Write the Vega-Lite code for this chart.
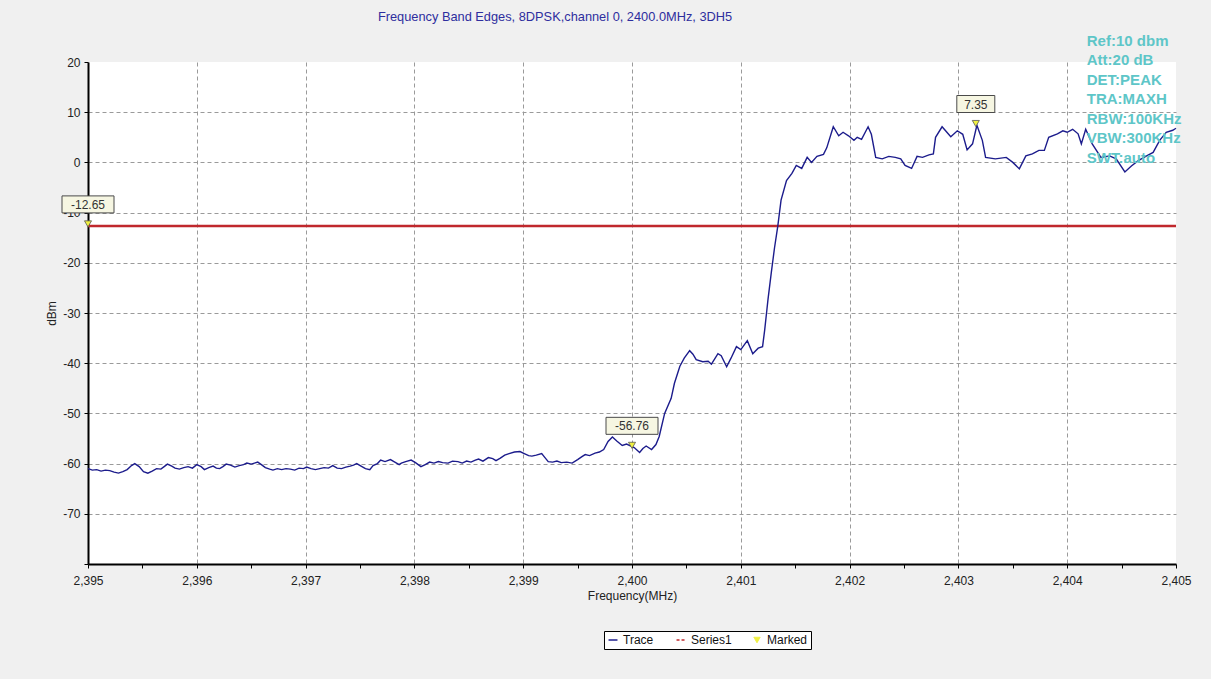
{
  "$schema": "https://vega.github.io/schema/vega-lite/v6.json",
  "width": 1088,
  "height": 502,
  "autosize": {"type": "none"},
  "padding": {"left": 88, "top": 62, "right": 35, "bottom": 115},
  "background": "#f0f0f0",
  "title": {
    "text": "Frequency Band Edges, 8DPSK,channel 0, 2400.0MHz, 3DH5",
    "color": "#2e2e9e",
    "fontSize": 12.8,
    "fontWeight": "normal",
    "font": "Liberation Sans",
    "anchor": "middle",
    "dx": -77,
    "dy": 12,
    "offset": 9,
    "baseline": "bottom"
  },
  "config": {
    "font": "Liberation Sans",
    "view": {"fill": "#ffffff", "stroke": null},
    "axis": {
      "labelFont": "Liberation Sans",
      "titleFont": "Liberation Sans",
      "labelFontSize": 12,
      "labelColor": "#222222",
      "titleFontSize": 12,
      "titleFontWeight": "normal",
      "titleColor": "#222222",
      "domainColor": "#000000",
      "domainWidth": 2,
      "tickColor": "#000000",
      "tickSize": 4,
      "gridColor": "#9a9a9a",
      "gridDash": [4, 3],
      "gridWidth": 1
    }
  },
  "datasets": {
    "trace": [
      {"f": 2395.00, "v": -61.0}, {"f": 2395.04, "v": -61.3}, {"f": 2395.08, "v": -61.2}, {"f": 2395.12, "v": -61.5},
      {"f": 2395.16, "v": -61.3}, {"f": 2395.20, "v": -61.4}, {"f": 2395.24, "v": -61.7}, {"f": 2395.28, "v": -61.9},
      {"f": 2395.32, "v": -61.6}, {"f": 2395.36, "v": -61.2}, {"f": 2395.40, "v": -60.4}, {"f": 2395.43, "v": -60.0},
      {"f": 2395.47, "v": -60.6}, {"f": 2395.51, "v": -61.6}, {"f": 2395.55, "v": -61.9}, {"f": 2395.59, "v": -61.5},
      {"f": 2395.63, "v": -61.0}, {"f": 2395.67, "v": -61.1}, {"f": 2395.70, "v": -60.6}, {"f": 2395.73, "v": -60.1},
      {"f": 2395.77, "v": -60.5}, {"f": 2395.80, "v": -60.9}, {"f": 2395.84, "v": -61.1}, {"f": 2395.88, "v": -60.8},
      {"f": 2395.92, "v": -60.6}, {"f": 2395.96, "v": -60.9}, {"f": 2396.00, "v": -60.2}, {"f": 2396.04, "v": -60.6},
      {"f": 2396.07, "v": -61.2}, {"f": 2396.11, "v": -60.8}, {"f": 2396.15, "v": -60.5}, {"f": 2396.18, "v": -60.9},
      {"f": 2396.21, "v": -61.0}, {"f": 2396.24, "v": -60.6}, {"f": 2396.27, "v": -60.1}, {"f": 2396.31, "v": -60.3},
      {"f": 2396.35, "v": -60.7}, {"f": 2396.39, "v": -60.4}, {"f": 2396.43, "v": -60.2}, {"f": 2396.46, "v": -59.9},
      {"f": 2396.50, "v": -60.1}, {"f": 2396.53, "v": -59.9}, {"f": 2396.56, "v": -59.7}, {"f": 2396.60, "v": -60.3},
      {"f": 2396.63, "v": -60.8}, {"f": 2396.67, "v": -61.1}, {"f": 2396.70, "v": -61.3}, {"f": 2396.74, "v": -61.0},
      {"f": 2396.78, "v": -61.2}, {"f": 2396.82, "v": -61.0}, {"f": 2396.86, "v": -61.1}, {"f": 2396.90, "v": -61.3},
      {"f": 2396.94, "v": -60.9}, {"f": 2396.98, "v": -61.0}, {"f": 2397.01, "v": -60.7}, {"f": 2397.05, "v": -61.0},
      {"f": 2397.09, "v": -61.2}, {"f": 2397.13, "v": -61.0}, {"f": 2397.17, "v": -60.8}, {"f": 2397.21, "v": -60.9},
      {"f": 2397.25, "v": -60.4}, {"f": 2397.29, "v": -60.9}, {"f": 2397.33, "v": -61.0}, {"f": 2397.37, "v": -60.7},
      {"f": 2397.41, "v": -60.5}, {"f": 2397.44, "v": -60.3}, {"f": 2397.47, "v": -60.0}, {"f": 2397.51, "v": -60.5},
      {"f": 2397.55, "v": -61.0}, {"f": 2397.59, "v": -61.2}, {"f": 2397.62, "v": -60.4}, {"f": 2397.66, "v": -60.0},
      {"f": 2397.69, "v": -59.3}, {"f": 2397.73, "v": -59.6}, {"f": 2397.78, "v": -59.2}, {"f": 2397.82, "v": -59.7},
      {"f": 2397.86, "v": -60.2}, {"f": 2397.88, "v": -59.9}, {"f": 2397.92, "v": -59.6}, {"f": 2397.97, "v": -59.3},
      {"f": 2398.01, "v": -59.8}, {"f": 2398.06, "v": -60.6}, {"f": 2398.10, "v": -60.2}, {"f": 2398.14, "v": -59.7},
      {"f": 2398.18, "v": -59.9}, {"f": 2398.22, "v": -59.6}, {"f": 2398.26, "v": -59.8}, {"f": 2398.31, "v": -59.9},
      {"f": 2398.35, "v": -59.5}, {"f": 2398.40, "v": -59.6}, {"f": 2398.44, "v": -59.9}, {"f": 2398.48, "v": -59.5},
      {"f": 2398.52, "v": -59.7}, {"f": 2398.56, "v": -59.3}, {"f": 2398.59, "v": -59.1}, {"f": 2398.63, "v": -59.5},
      {"f": 2398.68, "v": -58.8}, {"f": 2398.72, "v": -59.0}, {"f": 2398.75, "v": -59.4}, {"f": 2398.79, "v": -58.9},
      {"f": 2398.83, "v": -58.3}, {"f": 2398.87, "v": -58.0}, {"f": 2398.92, "v": -57.7}, {"f": 2398.97, "v": -57.6},
      {"f": 2399.01, "v": -58.0}, {"f": 2399.05, "v": -58.4}, {"f": 2399.08, "v": -58.5}, {"f": 2399.12, "v": -58.3},
      {"f": 2399.17, "v": -58.0}, {"f": 2399.20, "v": -58.8}, {"f": 2399.23, "v": -59.6}, {"f": 2399.27, "v": -59.7},
      {"f": 2399.31, "v": -59.5}, {"f": 2399.35, "v": -59.8}, {"f": 2399.40, "v": -59.7}, {"f": 2399.45, "v": -59.9},
      {"f": 2399.50, "v": -59.2}, {"f": 2399.54, "v": -58.6}, {"f": 2399.57, "v": -58.2}, {"f": 2399.61, "v": -58.4},
      {"f": 2399.66, "v": -57.9}, {"f": 2399.70, "v": -57.7}, {"f": 2399.74, "v": -57.2}, {"f": 2399.78, "v": -55.6},
      {"f": 2399.82, "v": -54.7}, {"f": 2399.86, "v": -55.5}, {"f": 2399.91, "v": -56.4}, {"f": 2399.95, "v": -56.1},
      {"f": 2399.99, "v": -56.5}, {"f": 2400.02, "v": -56.8}, {"f": 2400.07, "v": -57.8}, {"f": 2400.10, "v": -57.0},
      {"f": 2400.13, "v": -56.5}, {"f": 2400.18, "v": -57.2}, {"f": 2400.22, "v": -56.2}, {"f": 2400.25, "v": -54.6},
      {"f": 2400.30, "v": -50.0}, {"f": 2400.36, "v": -47.0}, {"f": 2400.39, "v": -44.0}, {"f": 2400.44, "v": -40.6},
      {"f": 2400.48, "v": -39.0}, {"f": 2400.53, "v": -37.5}, {"f": 2400.56, "v": -38.2}, {"f": 2400.59, "v": -39.3},
      {"f": 2400.65, "v": -39.7}, {"f": 2400.70, "v": -39.6}, {"f": 2400.73, "v": -40.2}, {"f": 2400.79, "v": -38.1},
      {"f": 2400.82, "v": -38.5}, {"f": 2400.87, "v": -40.7}, {"f": 2400.91, "v": -39.0}, {"f": 2400.96, "v": -36.7},
      {"f": 2401.00, "v": -37.3}, {"f": 2401.06, "v": -35.5}, {"f": 2401.11, "v": -38.1}, {"f": 2401.16, "v": -37.0},
      {"f": 2401.20, "v": -36.7}, {"f": 2401.22, "v": -33.3}, {"f": 2401.24, "v": -29.3}, {"f": 2401.25, "v": -27.3},
      {"f": 2401.28, "v": -22.0}, {"f": 2401.31, "v": -17.0}, {"f": 2401.34, "v": -12.7}, {"f": 2401.37, "v": -7.5},
      {"f": 2401.42, "v": -3.6}, {"f": 2401.47, "v": -2.2}, {"f": 2401.51, "v": -0.6}, {"f": 2401.56, "v": -1.2},
      {"f": 2401.61, "v": 1.0}, {"f": 2401.65, "v": 0.0}, {"f": 2401.70, "v": 1.2}, {"f": 2401.76, "v": 1.6},
      {"f": 2401.79, "v": 2.9}, {"f": 2401.85, "v": 7.1}, {"f": 2401.90, "v": 5.3}, {"f": 2401.94, "v": 6.0},
      {"f": 2401.99, "v": 5.3}, {"f": 2402.04, "v": 4.4}, {"f": 2402.07, "v": 5.0}, {"f": 2402.11, "v": 4.6},
      {"f": 2402.17, "v": 7.1}, {"f": 2402.20, "v": 5.6}, {"f": 2402.24, "v": 1.0}, {"f": 2402.30, "v": 0.7},
      {"f": 2402.36, "v": 1.2}, {"f": 2402.42, "v": 1.0}, {"f": 2402.47, "v": 0.7}, {"f": 2402.51, "v": -0.6},
      {"f": 2402.57, "v": -1.2}, {"f": 2402.62, "v": 1.2}, {"f": 2402.67, "v": 1.0}, {"f": 2402.73, "v": 1.5},
      {"f": 2402.77, "v": 1.7}, {"f": 2402.79, "v": 5.0}, {"f": 2402.85, "v": 7.1}, {"f": 2402.93, "v": 5.1},
      {"f": 2402.99, "v": 6.3}, {"f": 2403.04, "v": 5.6}, {"f": 2403.08, "v": 2.5}, {"f": 2403.13, "v": 3.7},
      {"f": 2403.17, "v": 7.4}, {"f": 2403.22, "v": 4.4}, {"f": 2403.25, "v": 1.0}, {"f": 2403.34, "v": 0.7},
      {"f": 2403.44, "v": 1.0}, {"f": 2403.50, "v": 0.0}, {"f": 2403.56, "v": -1.3}, {"f": 2403.62, "v": 1.3},
      {"f": 2403.68, "v": 1.7}, {"f": 2403.74, "v": 2.4}, {"f": 2403.79, "v": 2.4}, {"f": 2403.83, "v": 5.0},
      {"f": 2403.91, "v": 5.7}, {"f": 2403.96, "v": 6.3}, {"f": 2404.00, "v": 6.0}, {"f": 2404.05, "v": 6.6},
      {"f": 2404.10, "v": 5.7}, {"f": 2404.13, "v": 3.7}, {"f": 2404.17, "v": 6.6}, {"f": 2404.23, "v": 3.7},
      {"f": 2404.31, "v": 1.0}, {"f": 2404.39, "v": 1.3}, {"f": 2404.45, "v": 0.7}, {"f": 2404.53, "v": -1.9},
      {"f": 2404.59, "v": -0.7}, {"f": 2404.65, "v": 0.3}, {"f": 2404.73, "v": 1.3}, {"f": 2404.79, "v": 2.0},
      {"f": 2404.85, "v": 4.4}, {"f": 2404.91, "v": 6.0}, {"f": 2404.97, "v": 6.4}, {"f": 2405.00, "v": 6.8}
    ],
    "limit": [{"v": -12.65}],
    "markers": [
      {"f": 2395.0, "v": -12.65, "label": "-12.65"},
      {"f": 2400.0, "v": -56.76, "label": "-56.76"},
      {"f": 2403.16, "v": 7.35, "label": "7.35"}
    ],
    "settings": [
      {"f": 2404.18, "v": 25.6, "lines": ["Ref:10 dbm", "Att:20 dB", "DET:PEAK", "TRA:MAXH", "RBW:100KHz", "VBW:300KHz", "SWT:auto"]}
    ]
  },
  "layer": [
    {
      "data": {"name": "limit"},
      "mark": {"type": "rule", "color": "#c0282d", "strokeWidth": 2.5},
      "encoding": {
        "y": {
          "field": "v",
          "type": "quantitative",
          "scale": {"domain": [-80, 20], "nice": false, "zero": false},
          "axis": {
            "title": "dBm",
            "values": [-80, -75, -70, -65, -60, -55, -50, -45, -40, -35, -30, -25, -20, -15, -10, -5, 0, 5, 10, 15, 20],
            "labelExpr": "datum.value % 10 === 0 && datum.value > -80 ? toString(datum.value) : ''",
            "labelOverlap": false,
            "labelFlush": false,
            "labelPadding": 4,
            "titlePadding": 4,
            "grid": true,
            "gridOpacity": {"condition": {"test": "datum.value % 10 === 0 && datum.value > -80 && datum.value < 20", "value": 1}, "value": 0}
          }
        }
      }
    },
    {
      "data": {"name": "trace"},
      "mark": {"type": "line", "strokeWidth": 1.4, "interpolate": "linear"},
      "encoding": {
        "x": {
          "field": "f",
          "type": "quantitative",
          "scale": {"domain": [2395, 2405], "nice": false, "zero": false},
          "axis": {
            "title": "Frequency(MHz)",
            "values": [2395, 2395.25, 2395.5, 2395.75, 2396, 2396.25, 2396.5, 2396.75, 2397, 2397.25, 2397.5, 2397.75, 2398, 2398.25, 2398.5, 2398.75, 2399, 2399.25, 2399.5, 2399.75, 2400, 2400.25, 2400.5, 2400.75, 2401, 2401.25, 2401.5, 2401.75, 2402, 2402.25, 2402.5, 2402.75, 2403, 2403.25, 2403.5, 2403.75, 2404, 2404.25, 2404.5, 2404.75, 2405],
            "labelExpr": "datum.value % 1 === 0 ? format(datum.value, ',') : ''",
            "labelOverlap": false,
            "labelFlush": false,
            "labelPadding": 7,
            "titlePadding": 4,
            "grid": true,
            "gridOpacity": {"condition": {"test": "datum.value % 1 === 0 && datum.value > 2395 && datum.value < 2405", "value": 1}, "value": 0}
          }
        },
        "y": {"field": "v", "type": "quantitative"},
        "color": {
          "datum": "Trace",
          "type": "nominal",
          "scale": {"domain": ["Trace", "Series1", "Marked"], "range": ["#1c1c8c", "#c0282d", "#f0f040"]},
          "legend": {
            "title": null,
            "orient": "none",
            "legendX": 516,
            "legendY": 569,
            "direction": "horizontal",
            "fillColor": "#ffffff",
            "strokeColor": "#000000",
            "padding": 3,
            "labelFont": "Liberation Sans",
            "labelFontSize": 12,
            "labelColor": "#111111",
            "symbolSize": 80,
            "symbolStrokeWidth": 1.5,
            "columnPadding": 19,
            "labelOffset": 4,
            "encode": {
              "symbols": {
                "update": {
                  "shape": {"signal": "datum.value === 'Marked' ? 'triangle-down' : 'stroke'"},
                  "stroke": {"signal": "datum.value === 'Trace' ? '#1c1c8c' : (datum.value === 'Series1' ? '#c0282d' : '#333333')"},
                  "fill": {"signal": "datum.value === 'Marked' ? '#f0f040' : 'transparent'"},
                  "strokeDash": {"signal": "datum.value === 'Series1' ? [3, 2] : [1, 0]"},
                  "size": {"signal": "datum.value === 'Marked' ? 40 : 80"},
                  "strokeWidth": {"signal": "datum.value === 'Marked' ? 1 : 1.5"}
                }
              }
            }
          }
        }
      }
    },
    {
      "data": {"name": "markers"},
      "mark": {"type": "rect", "fill": "#f6f6e2", "stroke": "#4a4a4a", "strokeWidth": 1, "xOffset": -26, "x2Offset": 26, "yOffset": -30, "y2Offset": -13},
      "transform": [{"filter": "length(datum.label) > 4"}],
      "encoding": {
        "x": {"field": "f", "type": "quantitative"},
        "x2": {"field": "f"},
        "y": {"field": "v", "type": "quantitative"},
        "y2": {"field": "v"}
      }
    },
    {
      "data": {"name": "markers"},
      "mark": {"type": "rect", "fill": "#f6f6e2", "stroke": "#4a4a4a", "strokeWidth": 1, "xOffset": -19, "x2Offset": 19, "yOffset": -30, "y2Offset": -13},
      "transform": [{"filter": "length(datum.label) <= 4"}],
      "encoding": {
        "x": {"field": "f", "type": "quantitative"},
        "x2": {"field": "f"},
        "y": {"field": "v", "type": "quantitative"},
        "y2": {"field": "v"}
      }
    },
    {
      "data": {"name": "markers"},
      "mark": {"type": "text", "fontSize": 12, "font": "Liberation Sans", "color": "#333333", "dy": -21, "baseline": "middle", "align": "center"},
      "encoding": {
        "x": {"field": "f", "type": "quantitative"},
        "y": {"field": "v", "type": "quantitative"},
        "text": {"field": "label"}
      }
    },
    {
      "data": {"name": "markers"},
      "mark": {"type": "point", "shape": "triangle-down", "filled": true, "fill": "#f0f040", "stroke": "#555555", "strokeWidth": 0.8, "size": 50, "opacity": 1, "yOffset": -2},
      "encoding": {
        "x": {"field": "f", "type": "quantitative"},
        "y": {"field": "v", "type": "quantitative"}
      }
    },
    {
      "data": {"name": "settings"},
      "mark": {
        "type": "text",
        "font": "Liberation Sans",
        "fontSize": 15,
        "fontWeight": "bold",
        "color": "#5ec6c8",
        "align": "left",
        "baseline": "top",
        "lineHeight": 19.5
      },
      "encoding": {
        "x": {"field": "f", "type": "quantitative"},
        "y": {"field": "v", "type": "quantitative"},
        "text": {"field": "lines"}
      }
    }
  ]
}
